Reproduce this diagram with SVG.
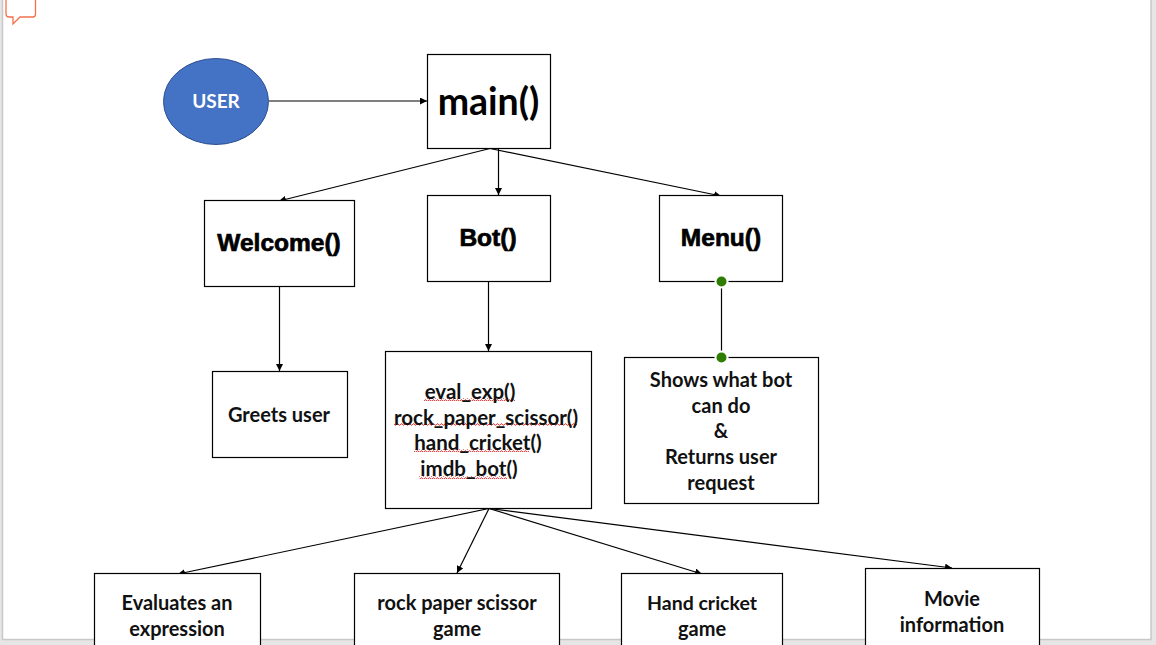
<svg xmlns="http://www.w3.org/2000/svg" width="1156" height="645" viewBox="0 0 1156 645">
<style>
.box{fill:#fff;stroke:#000;stroke-width:1.2}
.t{font-family:Lato,"Liberation Sans",sans-serif;font-weight:700;font-size:20px;fill:#111;text-anchor:middle}
.f{font-size:20.500px}
.h{font-family:"Liberation Sans",Arial,sans-serif;font-weight:700;font-size:24.500px;fill:#000;stroke:#000;stroke-width:.7;text-anchor:middle}
.c line{stroke:#000;stroke-width:1.2;fill:none}
.a{marker-end:url(#arr)}
.sq{fill:url(#wave)}
.dot{fill:#2d7d00;stroke:none}
.halo{fill:#fff;stroke:none}
</style>
<defs>
<marker id="arr" markerUnits="userSpaceOnUse" markerWidth="8" markerHeight="7" refX="7" refY="3.500" orient="auto"><path d="M0 0L7 3.500L0 7Z" fill="#000"/></marker>
<pattern id="wave" width="4" height="3" patternUnits="userSpaceOnUse"><path d="M0 2.200L1 .8L2 .8L3 2.200L4 2.200" fill="none" stroke="#e03030" stroke-width=".9"/></pattern>
</defs>
<rect width="1156" height="645" fill="#e6e6e6"/>
<rect x="2.500" y="-2" width="1148.500" height="641.500" fill="#fff" stroke="#c8c8c8" stroke-width="1.500"/>
<path d="M6 0V14Q6 17 9 17H13V24L20 17H33Q35.500 17 35.500 14V0" fill="none" stroke="#f4714f" stroke-width="1.300"/>
<g class="c" id="connectors">
<line class="a" x1="269" y1="101" x2="427" y2="101"/>
<line class="a" x1="490" y1="148.500" x2="279" y2="201"/>
<line class="a" x1="498.500" y1="148.500" x2="498.500" y2="195"/>
<line class="a" x1="490" y1="148.500" x2="721" y2="196"/>
<line class="a" x1="279.500" y1="286" x2="279.500" y2="371"/>
<line class="a" x1="488.500" y1="281" x2="488.500" y2="351"/>
<line x1="721.500" y1="281" x2="721.500" y2="357"/>
<line class="a" x1="489" y1="508.500" x2="178" y2="574"/>
<line class="a" x1="489" y1="508.500" x2="457" y2="573"/>
<line class="a" x1="489" y1="508.500" x2="702" y2="574"/>
<line class="a" x1="489" y1="508.500" x2="952" y2="568"/>
</g>
<g id="user"><ellipse cx="216" cy="101.500" rx="52.500" ry="43" fill="#4472c4" stroke="#2f528f"/><text x="216" y="108" class="t" style="fill:#fff;font-size:19px">USER</text></g>
<g id="main"><rect class="box" x="427.500" y="54.500" width="123" height="94"/><text x="488.500" y="115" class="t" style="font-size:37.500px;fill:#000">main()</text></g>
<g id="welcome"><rect class="box" x="204.500" y="200.500" width="150" height="86"/><text x="279" y="250.500" class="h">Welcome()</text></g>
<g id="bot"><rect class="box" x="427.500" y="195.500" width="123" height="86"/><text x="488" y="245.500" class="h">Bot()</text></g>
<g id="menu"><rect class="box" x="659.500" y="195.500" width="123" height="86"/><text x="721" y="245.500" class="h">Menu()</text></g>
<g id="greets"><rect class="box" x="212.500" y="371.500" width="135" height="86"/><text x="279" y="421.500" class="t">Greets user</text></g>
<g id="functions"><rect class="box" x="385.500" y="351.500" width="206" height="157"/>
<rect class="sq" x="424" y="398" width="91" height="3"/><rect class="sq" x="394" y="423" width="183" height="3"/><rect class="sq" x="414" y="449" width="115" height="3"/><rect class="sq" x="419" y="476" width="88" height="3"/>
<text x="470" y="398.500" class="t f">eval_exp()</text><text x="486" y="424.500" class="t f">rock_paper_scissor()</text><text x="478" y="449.500" class="t f">hand_cricket()</text><text x="469" y="475.500" class="t f">imdb_bot()</text></g>
<g id="shows"><rect class="box" x="624.500" y="357.500" width="194" height="146"/><text x="721" y="386.500" class="t">Shows what bot</text><text x="721" y="412.500" class="t">can do</text><text x="721" y="437.500" class="t">&amp;</text><text x="721" y="463.500" class="t">Returns user</text><text x="721" y="489.500" class="t">request</text></g>
<g id="evaluates"><rect class="box" x="94.500" y="573.500" width="166" height="80"/><text x="177" y="610" class="t">Evaluates an</text><text x="177" y="636" class="t">expression</text></g>
<g id="rps"><rect class="box" x="354.500" y="573.500" width="205" height="80"/><text x="457" y="610" class="t">rock paper scissor</text><text x="457" y="636" class="t">game</text></g>
<g id="cricket"><rect class="box" x="621.500" y="573.500" width="161" height="80"/><text x="702" y="610" class="t" style="font-size:19.500px">Hand cricket</text><text x="702" y="636" class="t">game</text></g>
<g id="movie"><rect class="box" x="865.500" y="568.500" width="174" height="85"/><text x="952" y="605.500" class="t">Movie</text><text x="952" y="631.500" class="t">information</text></g>
<g id="handles"><circle class="halo" cx="721.500" cy="281.500" r="7"/><circle class="dot" cx="721.500" cy="281.500" r="5"/><circle class="halo" cx="721.500" cy="357.500" r="7"/><circle class="dot" cx="721.500" cy="357.500" r="5"/></g>
</svg>
